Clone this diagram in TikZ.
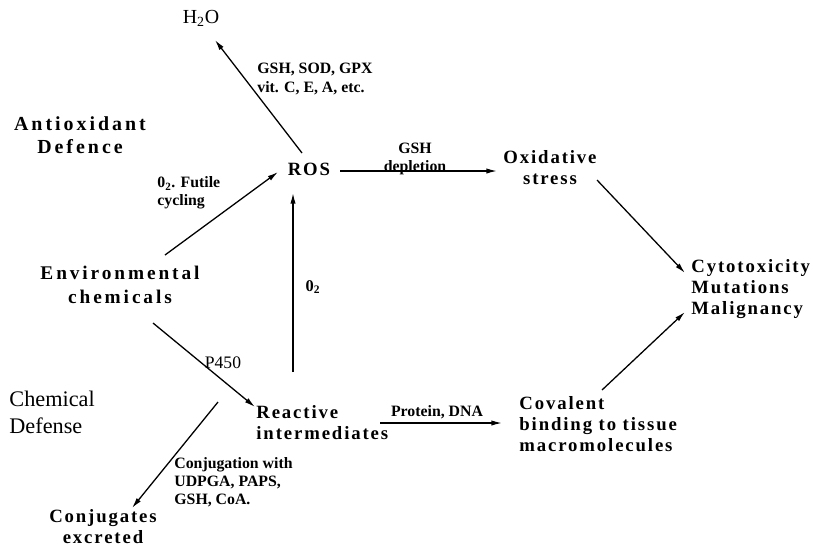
\documentclass[tikz,border=0pt]{standalone}
\usepackage{fontspec}
\setmainfont{Liberation Serif}
\newfontfamily\spacedfont[LetterSpace=10]{Liberation Serif}
\newfontfamily\widefont[LetterSpace=15]{Liberation Serif}
\newcommand\mainlbl{\spacedfont\bfseries\fontsize{16}{18}\selectfont}
\newcommand\smalllbl{\bfseries\fontsize{13.5}{15.5}\selectfont}
\newcommand\sidelbl{\fontsize{19}{23}\selectfont}
\usepackage{tikz}
\usetikzlibrary{calc,positioning,arrows.meta}

\begin{document}
\begin{tikzpicture}[x=0.03cm, y=-0.03cm,
    big/.style={font=\mainlbl, align=center, inner sep=1pt},
    lab/.style={font=\smalllbl, align=left, inner sep=1pt},
    arr/.style={-{Latex[length=9pt,width=4.5pt]}, line width=1.1pt}]
      \useasboundingbox (0,0) rectangle (813,547);

      % main boxes
      \node[big,font=\fontsize{17}{18}\selectfont] (h2o) at (201,18) {H\textsubscript{2}O};
      \node[big] (ros) at (309,169) {ROS};
      \node[big] (oxid) at (550,168) {Oxidative\\stress};
      \node[big,anchor=west,align=left] (cyto) at (690,289) {Cytotoxicity\\Mutations\\Malignancy};
      \node[big,anchor=west,align=left] (coval) at (518,424) {Covalent\\binding to tissue\\macromolecules};
      \node[big,anchor=west,align=left] (react) at (255,423) {Reactive\\intermediates};
      \node[big,font=\widefont\bfseries\fontsize{16.5}{20}\selectfont] (env) at (120,285) {Environmental\\chemicals};
      \node[big] (conj) at (103,527) {Conjugates\\excreted};
      \node[big,font=\widefont\bfseries\fontsize{17}{20}\selectfont] (antiox) at (80,135) {Antioxidant\\Defence};
      \node[anchor=west,align=left,font=\sidelbl,inner sep=1pt] (chemdef) at (8,412) {Chemical\\Defense};
      \coordinate (cjstart) at (218,402);

      % edge labels
      \node[lab,anchor=west] (lgsh) at (256,79) {GSH, SOD, GPX\\vit. C, E, A, etc.};
      \node[lab,align=center,anchor=south] (ldep) at (415,176) {GSH\\depletion};
      \node[lab,anchor=west] (lfut) at (156,193) {0\textsubscript{2}. Futile\\cycling};
      \node[lab,font=\bfseries\fontsize{14}{16}\selectfont] (lo2) at (313,287) {0\textsubscript{2}};
      \node[lab,font=\fontsize{15}{17}\selectfont] (lp450) at (223,363) {P450};
      \node[lab] (lprot) at (437,412) {Protein, DNA};
      \node[lab,anchor=north west] (lcjw) at (173,456) {Conjugation with\\UDPGA, PAPS,\\GSH, CoA.};

      \draw[arr] ([shift={(-7,-16)}]ros.center) -- ([shift={(14,22)}]h2o.center);
      \draw[arr] ([shift={(45,-30)}]env.center) -- ([shift={(-31,3)}]ros.center);
      \draw[arr] ([shift={(33,38)}]env.center) -- ([shift={(0,-16)}]react.west);
      \draw[arr] ([shift={(38,-51)}]react.west) -- ([shift={(-16,24)}]ros.center);
      \draw[arr] ([shift={(31,2)}]ros.center) -- ([shift={(-53,3)}]oxid.center);
      \draw[arr] ([shift={(47,12)}]oxid.center) -- ([shift={(-5,-16)}]cyto.west);
      \draw[arr] ([shift={(125,0)}]react.west) -- ([shift={(-16,-1)}]coval.west);
      \draw[arr] ([shift={(84,-34)}]coval.west) -- ([shift={(-5,23)}]cyto.west);
      \draw[arr] (cjstart) -- ([shift={(29,-19)}]conj.center);
    \end{tikzpicture}
\end{document}
